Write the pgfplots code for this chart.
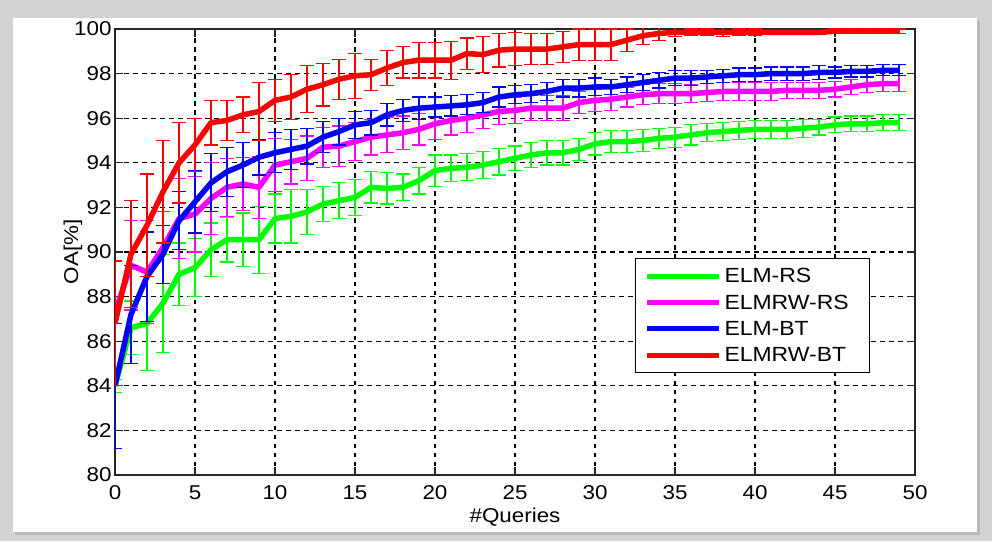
\documentclass[border=0pt]{standalone}
\usepackage{fontspec}
\setmainfont{Liberation Sans}[FakeStretch=1.12]
\usepackage{pgfplots}
\pgfplotsset{compat=1.18}
\usepackage{pgfplotstable}
\definecolor{cG}{RGB}{0,255,0}
\definecolor{cM}{RGB}{255,0,255}
\definecolor{cB}{RGB}{0,0,255}
\definecolor{cR}{RGB}{255,0,0}

\pgfplotstableread{
x y e
0 84.0 0.3
1 86.6 1.2
2 86.8 2.1
3 87.7 2.2
4 89.0 1.4
5 89.3 1.3
6 90.1 1.2
7 90.55 1.0
8 90.55 1.2
9 90.55 1.5
10 91.5 1.1
11 91.6 1.2
12 91.8 1.0
13 92.15 0.8
14 92.3 0.8
15 92.45 0.8
16 92.9 0.7
17 92.85 0.7
18 92.9 0.6
19 93.2 0.6
20 93.65 0.7
21 93.75 0.6
22 93.8 0.6
23 93.9 0.6
24 94.05 0.6
25 94.2 0.55
26 94.35 0.55
27 94.45 0.55
28 94.45 0.55
29 94.6 0.5
30 94.85 0.5
31 94.95 0.5
32 94.95 0.5
33 95.0 0.5
34 95.1 0.45
35 95.15 0.45
36 95.25 0.45
37 95.35 0.4
38 95.4 0.4
39 95.45 0.4
40 95.5 0.4
41 95.5 0.4
42 95.5 0.4
43 95.55 0.4
44 95.6 0.35
45 95.7 0.35
46 95.75 0.35
47 95.75 0.35
48 95.8 0.35
49 95.8 0.35
}\elmrs

\pgfplotstableread{
x y e
0 87.3 0.5
1 89.4 2.0
2 89.1 2.3
3 90.2 1.6
4 91.5 1.8
5 91.7 1.7
6 92.4 1.6
7 92.9 1.3
8 93.05 1.2
9 92.9 1.4
10 93.9 1.2
11 94.05 1.0
12 94.2 1.0
13 94.7 0.9
14 94.75 0.9
15 94.95 0.85
16 95.15 0.8
17 95.25 0.8
18 95.35 0.75
19 95.5 0.7
20 95.75 0.7
21 95.9 0.65
22 96.0 0.65
23 96.15 0.6
24 96.3 0.6
25 96.35 0.6
26 96.45 0.55
27 96.45 0.55
28 96.45 0.55
29 96.7 0.5
30 96.8 0.5
31 96.85 0.5
32 96.95 0.45
33 97.05 0.45
34 97.1 0.45
35 97.1 0.45
36 97.1 0.4
37 97.15 0.4
38 97.2 0.4
39 97.2 0.4
40 97.2 0.4
41 97.2 0.4
42 97.25 0.35
43 97.25 0.35
44 97.25 0.35
45 97.3 0.35
46 97.4 0.35
47 97.5 0.35
48 97.55 0.35
49 97.55 0.35
}\elmrwrs

\pgfplotstableread{
x y e
0 84.0 2.8
1 87.2 2.2
2 88.9 2.0
3 89.9 1.3
4 91.4 1.3
5 92.25 1.4
6 93.1 1.3
7 93.6 1.1
8 93.9 1.0
9 94.25 0.8
10 94.45 0.9
11 94.6 0.9
12 94.75 0.8
13 95.15 0.7
14 95.4 0.6
15 95.7 0.6
16 95.8 0.55
17 96.15 0.5
18 96.35 0.5
19 96.45 0.5
20 96.5 0.45
21 96.55 0.45
22 96.6 0.45
23 96.7 0.45
24 96.95 0.45
25 97.05 0.4
26 97.1 0.4
27 97.2 0.4
28 97.35 0.4
29 97.35 0.4
30 97.4 0.4
31 97.4 0.35
32 97.5 0.35
33 97.6 0.35
34 97.7 0.35
35 97.8 0.35
36 97.8 0.35
37 97.85 0.3
38 97.9 0.3
39 97.95 0.3
40 97.95 0.3
41 98.0 0.3
42 98.0 0.3
43 98.0 0.3
44 98.05 0.3
45 98.05 0.25
46 98.1 0.25
47 98.1 0.25
48 98.15 0.25
49 98.15 0.25
}\elmbt

\pgfplotstableread{
x y e
0 86.8 2.8
1 89.9 2.4
2 91.2 2.3
3 92.7 2.3
4 94.0 1.8
5 94.8 1.2
6 95.8 1.0
7 95.9 0.9
8 96.15 0.8
9 96.3 1.3
10 96.8 0.95
11 96.95 1.0
12 97.3 1.05
13 97.5 0.95
14 97.75 0.9
15 97.9 1.0
16 97.95 0.7
17 98.25 0.8
18 98.5 0.7
19 98.6 0.8
20 98.6 0.8
21 98.6 0.85
22 98.9 0.7
23 98.85 0.8
24 99.05 0.75
25 99.1 0.75
26 99.1 0.7
27 99.1 0.7
28 99.2 0.7
29 99.3 0.7
30 99.3 0.7
31 99.3 0.7
32 99.5 0.5
33 99.7 0.4
34 99.8 0.3
35 99.85 0.2
36 99.85 0.15
37 99.85 0.15
38 99.85 0.2
39 99.85 0.15
40 99.85 0.15
41 99.85 0.1
42 99.85 0.1
43 99.85 0.1
44 99.85 0.1
45 99.9 0.1
46 99.9 0.1
47 99.9 0.1
48 99.9 0.1
49 99.9 0.1
}\elmrwbt

\pgfplotsset{
  ebar/.style={color=#1, line width=5.5pt, mark=none, line join=round,
    error bars/.cd, y dir=both, y explicit,
    error bar style={line width=1.2pt, solid},
    error mark options={rotate=90, line width=1.2pt, mark size=7pt}},
}

\begin{document}
\begin{tikzpicture}
\fill[gray!35] (-115pt,-66pt) rectangle (877pt,475pt);
\fill[gray!55] (-100pt,-60pt) rectangle (865pt,454pt);
\fill[white] (-102pt,-57pt) rectangle (862pt,457pt);
\begin{axis}[
  at={(0pt,0pt)}, anchor=south west,
  scale only axis, width=800pt, height=446pt,
  xmin=0, xmax=50, ymin=80, ymax=100,
  xtick={0,5,...,50}, ytick={80,82,...,100},
  grid=major,
  major grid style={black, line width=1.2pt, dash pattern=on 4.5pt off 4.5pt},
  axis line style={line width=1.3pt, black!85},
  tick align=inside, major tick length=8pt,
  tick style={black!85, line width=1.2pt},
  /pgf/number format/assume math mode=true,
  ticklabel style={font=\fontsize{20}{22}\selectfont},
  xticklabel style={yshift=-7pt},
  label style={font=\fontsize{20}{22}\selectfont},
  xlabel={\#Queries}, ylabel={OA[\%]},
  xlabel style={at={(axis description cs:0.5,-0.094)}, anchor=center},
  ylabel style={at={(axis description cs:-0.0525,0.5)}, anchor=center},
  legend style={at={(0.944,0.4865)}, anchor=north east, draw=black, line width=1pt,
    fill=white, font=\fontsize{20.5}{24}\selectfont,
    inner xsep=9pt, inner ysep=8pt, row sep=6.5pt,
    nodes={inner xsep=3pt}},
  legend cell align=left,
  legend image code/.code={\draw[#1, line width=5pt] (0pt,0pt) -- (72pt,0pt);},
]
\addplot[ebar=cG] table[x=x, y=y, y error=e] {\elmrs};
\addlegendentry{ELM-RS\hspace*{9pt}}
\addplot[ebar=cM] table[x=x, y=y, y error=e] {\elmrwrs};
\addlegendentry{ELMRW-RS\hspace*{9pt}}
\addplot[ebar=cB] table[x=x, y=y, y error=e] {\elmbt};
\addlegendentry{ELM-BT\hspace*{9pt}}
\addplot[ebar=cR] table[x=x, y=y, y error=e] {\elmrwbt};
\addlegendentry{ELMRW-BT\hspace*{9pt}}
\end{axis}
\pgfresetboundingbox
\path (-115pt,-66pt) rectangle (877pt,475pt);
\end{tikzpicture}
\end{document}
